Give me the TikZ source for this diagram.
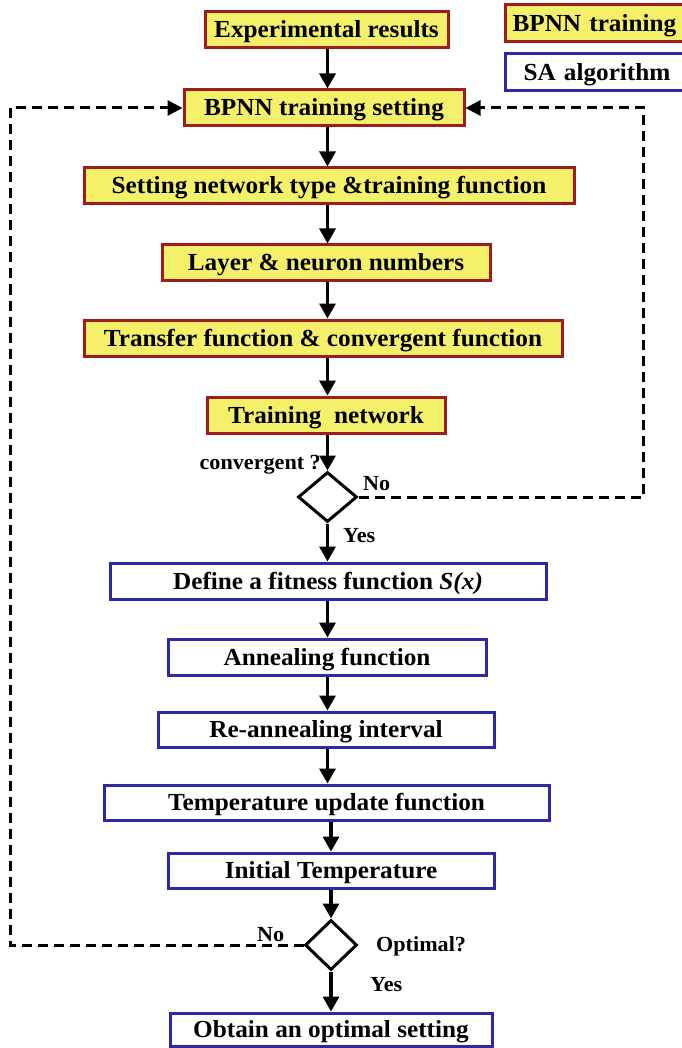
\documentclass[tikz,border=0pt]{standalone}
\usepackage{fontspec}
\setmainfont{Liberation Serif}[FakeStretch=1.03]
\usetikzlibrary{arrows.meta,shapes.geometric}
\definecolor{fillY}{RGB}{245,240,105}
\definecolor{bordR}{RGB}{160,28,28}
\definecolor{bordB}{RGB}{45,40,165}
\begin{document}
\begin{tikzpicture}[x=1pt,y=-1pt,
 font=\fontsize{24.5}{28}\selectfont\bfseries,
 box/.style={line width=3pt, inner sep=0pt, minimum height=36pt, text height=16pt, text depth=0pt},
 bp/.style={box, draw=bordR, fill=fillY},
 sa/.style={box, draw=bordB, fill=white},
 arr/.style={line width=3.2pt, -{Triangle[length=15pt,width=16pt]}},
 dsh/.style={line width=3pt, dash pattern=on 10pt off 6pt, -{Triangle[length=15pt,width=15pt]}},
 dec/.style={diamond, draw, line width=3pt, minimum width=59pt, minimum height=50pt, inner sep=0pt, fill=white},
 lbl/.style={font=\fontsize{21.5}{24}\selectfont\bfseries, inner sep=0pt}]
\useasboundingbox (0,0) rectangle (681,1048);
% legend
\node[bp, anchor=west, minimum width=200pt, minimum height=37pt, inner xsep=7pt, text width=186pt, align=left] (lg1) at (504,23.5) {BPNN training};
\node[sa, anchor=west, minimum width=200pt, minimum height=37pt, inner xsep=18pt, text width=164pt, align=left] (lg2) at (504,72.5) {SA algorithm};
% BPNN part
\node[bp, minimum width=243pt] (n1) at (326.5,30) {Experimental results};
\node[bp, minimum width=280pt] (n2) at (324,108) {BPNN training setting};
\node[bp, minimum width=490pt] (n3) at (329,186) {Setting network type \&training function};
\node[bp, minimum width=328pt] (n4) at (326,263) {Layer \& neuron numbers};
\node[bp, minimum width=478pt] (n5) at (323,338) {Transfer function \& convergent function};
\node[bp, minimum width=238pt] (n6) at (326,415) {Training\ \ network};
\node[dec] (d1) at (327.5,497) {};
% SA part
\node[sa, minimum width=436pt] (n7) at (328,581) {Define a fitness function \textit{S(x)}};
\node[sa, minimum width=318pt] (n8) at (327,657) {Annealing function};
\node[sa, minimum width=336pt, minimum height=35pt] (n9) at (326,729.5) {Re-annealing interval};
\node[sa, minimum width=445pt, minimum height=35pt] (n10) at (326.5,802.5) {Temperature update function};
\node[sa, minimum width=326pt, minimum height=35pt] (n11) at (331,870.5) {Initial Temperature};
\node[dec, minimum width=52pt] (d2) at (331,945) {};
\node[sa, minimum width=322pt, minimum height=33pt] (n12) at (331,1029.5) {Obtain an optimal setting};
% axes for arrows
\coordinate (ax) at (327.5,0);
\coordinate (bx) at (331,0);
\draw[arr] (n1.south -| ax) -- (n2.north -| ax);
\draw[arr] (n2.south -| ax) -- (n3.north -| ax);
\draw[arr] (n3.south -| ax) -- (n4.north -| ax);
\draw[arr] (n4.south -| ax) -- (n5.north -| ax);
\draw[arr] (n5.south -| ax) -- (n6.north -| ax);
\draw[arr] (n6.south -| ax) -- (d1.north);
\draw[arr] (d1.south) -- (n7.north -| ax);
\draw[arr] (n7.south -| ax) -- (n8.north -| ax);
\draw[arr] (n8.south -| ax) -- (n9.north -| ax);
\draw[arr] (n9.south -| ax) -- (n10.north -| ax);
\draw[arr] (n10.south -| bx) -- (n11.north -| bx);
\draw[arr] (n11.south -| bx) -- (d2.north);
\draw[arr] (d2.south) -- (n12.north -| bx);
% feedback loops
\coordinate (rc) at (643,497);
\coordinate (lc) at (10,945);
\draw[dsh] (d1.east) -- (rc) -- (rc |- n2.east) -- (n2.east);
\draw[dsh] (d2.west) -- (lc) -- (lc |- n2.west) -- (n2.west);
% labels
\node[lbl, anchor=base east] (t1) at (321,469) {convergent ?};
\node[lbl, anchor=base west] (t2) at (363,490) {No};
\node[lbl, anchor=base west] (t3) at (343,542) {Yes};
\node[lbl, anchor=base west] (t4) at (257,941) {No};
\node[lbl, anchor=base west] (t5) at (376,951) {Optimal?};
\node[lbl, anchor=base west] (t6) at (370,991) {Yes};
\end{tikzpicture}
\end{document}
